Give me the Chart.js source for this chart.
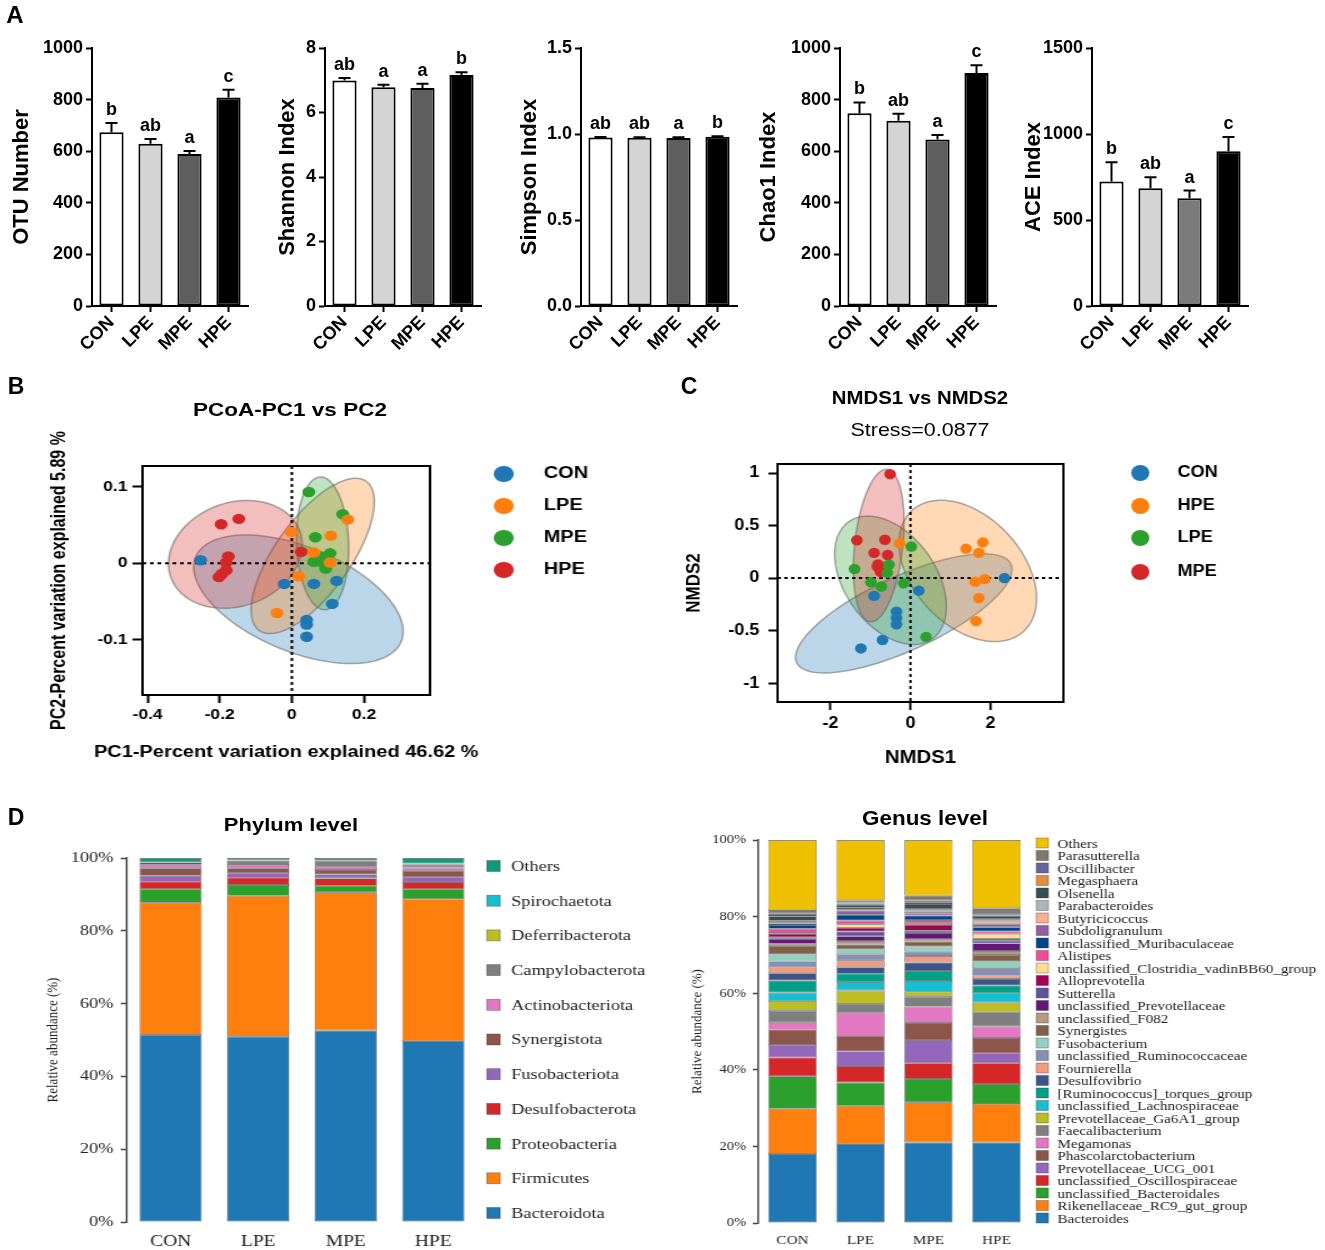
<!DOCTYPE html>
<html>
<head>
<meta charset="utf-8">
<title>Gut microbiota diversity and composition</title>
<script src="https://cdn.jsdelivr.net/npm/chart.js@4.4.1/dist/chart.umd.min.js"></script>
<style>
  body { margin: 0; background: #fff; }
  #fig { position: relative; width: 1325px; height: 1250px; overflow: hidden; font-family: "Liberation Sans", Arial, sans-serif; color: #000; }
  #fig canvas { position: absolute; transform-origin: 0 0; }
  .txt { position: absolute; white-space: nowrap; line-height: 1; }
</style>
</head>
<body>
<div id="fig">
  <canvas id="otu"></canvas>
  <canvas id="shannon"></canvas>
  <canvas id="simpson"></canvas>
  <canvas id="chao1"></canvas>
  <canvas id="ace"></canvas>
  <canvas id="pcoa"></canvas>
  <canvas id="nmds"></canvas>
  <canvas id="phylum"></canvas>
  <canvas id="genus"></canvas>

  <div class="txt" style="left:15px;top:15px;font-size:24px;font-weight:bold;transform:translate(-50%,-50%)">A</div>
  <div class="txt" style="left:16px;top:386px;font-size:23px;font-weight:bold;transform:translate(-50%,-50%)">B</div>
  <div class="txt" style="left:689px;top:386px;font-size:23px;font-weight:bold;transform:translate(-50%,-50%)">C</div>
  <div class="txt" style="left:16px;top:817px;font-size:23px;font-weight:bold;transform:translate(-50%,-50%)">D</div>

  <div class="txt" style="left:290px;top:410px;font-size:18px;font-weight:bold;transform:translate(-50%,-50%) scaleX(1.25)">PCoA-PC1 vs PC2</div>
  <div class="txt" style="left:920px;top:398px;font-size:18px;font-weight:bold;transform:translate(-50%,-50%) scaleX(1.13)">NMDS1 vs NMDS2</div>
  <div class="txt" style="left:920px;top:429px;font-size:19px;transform:translate(-50%,-50%) scaleX(1.13)">Stress=0.0877</div>
  <div class="txt" style="left:291px;top:825px;font-size:18px;font-weight:bold;transform:translate(-50%,-50%) scaleX(1.22)">Phylum level</div>
  <div class="txt" style="left:925px;top:818px;font-size:20px;font-weight:bold;transform:translate(-50%,-50%) scaleX(1.12)">Genus level</div>
</div>

<script>
// ---- data ----
const groups = ['CON', 'LPE', 'MPE', 'HPE'];

const otuMean = [673, 629, 589, 808];
const otuSem = [36, 18, 12, 30];
const otuSig = ['b', 'ab', 'a', 'c'];

const shannonMean = [6.99, 6.78, 6.76, 7.16];
const shannonSem = [0.08, 0.08, 0.13, 0.09];
const shannonSig = ['ab', 'a', 'a', 'b'];

const simpsonMean = [0.979, 0.978, 0.977, 0.984];
const simpsonSem = [0.004, 0.003, 0.004, 0.003];
const simpsonSig = ['ab', 'ab', 'a', 'b'];

const chao1Mean = [747, 718, 645, 903];
const chao1Sem = [42, 27, 18, 30];
const chao1Sig = ['b', 'ab', 'a', 'c'];

const aceMean = [724, 685, 627, 899];
const aceSem = [112, 64, 44, 83];
const aceSig = ['b', 'ab', 'a', 'c'];

// PCoA (PC1, PC2)
const pcoaCON = [[-0.253, 0.004], [-0.021, -0.027], [0.061, -0.027], [0.124, -0.023], [0.112, -0.053], [0.041, -0.074], [0.041, -0.080], [0.041, -0.096]];
const pcoaLPE = [[-0.002, 0.041], [0.108, 0.036], [0.061, 0.014], [0.019, -0.017], [-0.041, -0.065], [0.155, 0.057], [0.106, 0.001]];
const pcoaMPE = [[0.047, 0.093], [0.141, 0.064], [0.065, 0.034], [0.106, 0.013], [0.061, 0.002], [0.088, 0.000], [0.094, -0.007], [0.080, 0.009]];
const pcoaHPE = [[-0.196, 0.051], [-0.147, 0.058], [-0.176, 0.009], [-0.182, 0.001], [-0.182, -0.009], [-0.194, -0.014], [-0.202, -0.018], [0.026, 0.015]];
const pcoaXTicks = [-0.4, -0.2, 0, 0.2];
const pcoaYTicks = [-0.1, 0, 0.1];

// NMDS (NMDS1, NMDS2)
const nmdsCON = [[2.35, 0], [0.21, -0.12], [-0.91, -0.17], [-0.35, -0.32], [-0.35, -0.38], [-0.35, -0.44], [-0.70, -0.59], [-1.24, -0.67]];
const nmdsHPE = [[1.39, 0.28], [1.81, 0.34], [1.71, 0.24], [1.86, -0.01], [1.62, -0.035], [1.71, -0.19], [1.64, -0.41], [-0.27, 0.33]];
const nmdsLPE = [[0.02, 0.30], [-1.40, 0.086], [-0.54, 0.127], [-0.99, -0.04], [-0.73, -0.08], [-0.17, -0.05], [0.39, -0.56], [-0.58, 0.05]];
const nmdsMPE = [[-0.51, 0.99], [-1.34, 0.36], [-0.64, 0.365], [-0.91, 0.24], [-0.57, 0.22], [-0.83, 0.11], [-0.75, 0.06], [-0.81, 0.13]];
const nmdsXTicks = [-2, 0, 2];
const nmdsYTicks = [-1, -0.5, 0, 0.5, 1];

// phylum relative abundance (%), bottom of stack first
const phylumNames = ['Bacteroidota', 'Firmicutes', 'Proteobacteria', 'Desulfobacterota', 'Fusobacteriota', 'Synergistota', 'Actinobacteriota', 'Campylobacterota', 'Deferribacterota', 'Spirochaetota', 'Others'];
const phylumColors = ['#1f77b4', '#ff7f0e', '#2ca02c', '#d62728', '#9467bd', '#8c564b', '#e377c2', '#7f7f7f', '#bcbd22', '#17becf', '#0f9a7c'];
const phylumCON = [51.4, 36.3, 3.7, 2.1, 1.6, 2.1, 1.1, 0.3, 0.1, 0.1, 1.2];
const phylumLPE = [50.9, 38.7, 3.0, 2.0, 1.2, 1.4, 0.9, 1.2, 0.1, 0.1, 0.5];
const phylumMPE = [52.6, 38.0, 1.8, 2.0, 1.1, 1.2, 0.9, 1.5, 0.1, 0.1, 0.7];
const phylumHPE = [49.7, 39.0, 2.7, 2.0, 1.3, 1.8, 0.9, 0.8, 0.2, 0.1, 1.5];

// genus relative abundance (%), bottom of stack first
const genusNames = ['Bacteroides', 'Rikenellaceae_RC9_gut_group', 'unclassified_Bacteroidales', 'unclassified_Oscillospiraceae',
  'Prevotellaceae_UCG_001', 'Phascolarctobacterium', 'Megamonas', 'Faecalibacterium', 'Prevotellaceae_Ga6A1_group',
  'unclassified_Lachnospiraceae', '[Ruminococcus]_torques_group', 'Desulfovibrio', 'Fournierella', 'unclassified_Ruminococcaceae',
  'Fusobacterium', 'Synergistes', 'unclassified_F082', 'unclassified_Prevotellaceae', 'Sutterella', 'Alloprevotella',
  'unclassified_Clostridia_vadinBB60_group', 'Alistipes', 'unclassified_Muribaculaceae', 'Subdoligranulum', 'Butyricicoccus',
  'Parabacteroides', 'Olsenella', 'Megasphaera', 'Oscillibacter', 'Parasutterella', 'Others'];
const genusColors = ['#1f77b4', '#ff7f0e', '#2ca02c', '#d62728', '#9467bd', '#8c564b', '#e377c2', '#7f7f7f', '#bcbd22',
  '#17becf', '#00a087', '#3c5488', '#f39b7f', '#8491b4', '#91d1c2', '#7e6148', '#b09c85', '#631879', '#5f559b', '#a20056',
  '#ffdc91', '#ee4c97', '#00468b', '#925e9f', '#fdaf91', '#adb6b6', '#374e55', '#df8f44', '#6a6599', '#80796b', '#efc000'];
const genusCON = [18.0, 11.8, 8.5, 4.9, 3.3, 4.0, 1.9, 3.0, 2.5, 2.3, 3.1, 1.9, 1.6, 1.5, 1.9, 2.2, 0.5, 1.3, 0.4, 0.9, 0.2, 1.1, 1.0, 0.4, 0.3, 0.4, 1.2, 0.3, 0.5, 0.8, 18.3];
const genusLPE = [20.6, 10.0, 6.1, 4.3, 3.8, 4.1, 6.0, 2.3, 3.5, 2.2, 2.2, 1.7, 1.8, 1.6, 1.3, 1.2, 0.9, 1.3, 1.2, 1.0, 0.9, 1.0, 1.5, 1.1, 0.3, 0.4, 0.8, 0.3, 0.3, 0.6, 15.7];
const genusMPE = [21.0, 10.5, 6.1, 4.1, 6.1, 4.4, 4.3, 2.6, 1.3, 2.8, 2.6, 2.2, 1.7, 1.2, 1.3, 1.3, 0.6, 1.6, 0.6, 1.5, 0.5, 0.8, 1.2, 0.6, 0.4, 0.6, 1.4, 0.3, 0.6, 1.3, 14.5];
const genusHPE = [21.0, 10.1, 5.2, 5.4, 2.6, 4.0, 3.0, 3.7, 2.6, 2.4, 2.0, 1.7, 0.9, 1.9, 1.8, 1.7, 1.0, 2.0, 0.7, 0.5, 1.3, 0.6, 1.1, 0.8, 0.7, 0.6, 0.9, 0.4, 0.6, 1.0, 17.8];

// ---- helpers ----
const SANS = "'Liberation Sans', Arial, sans-serif";
const SERIF = "'Liberation Serif', 'Times New Roman', serif";
Chart.defaults.color = '#000';
Chart.defaults.font.family = SANS;

// size a canvas; sx stretches it horizontally like the source figure
function place(id, left, top, w, h, sx) {
  const c = document.getElementById(id);
  const iw = Math.round(w / sx);
  c.width = iw; c.height = h;
  c.style.left = left + 'px'; c.style.top = top + 'px';
  c.style.width = iw + 'px'; c.style.height = h + 'px';
  if (sx !== 1) c.style.transform = 'scaleX(' + sx + ')';
  return c;
}

function rgba(hex, a) {
  const n = parseInt(hex.slice(1), 16);
  return 'rgba(' + (n >> 16) + ',' + ((n >> 8) & 255) + ',' + (n & 255) + ',' + a + ')';
}

// upper error bar + significance letter above each bar
function errorLetters(sem, sig) {
  return {
    id: 'errorLetters',
    afterDatasetsDraw(chart) {
      const { ctx, scales: { y } } = chart;
      const vals = chart.data.datasets[0].data;
      ctx.save();
      ctx.strokeStyle = '#000'; ctx.lineWidth = 2; ctx.fillStyle = '#000';
      ctx.font = 'bold 18px ' + SANS; ctx.textAlign = 'center'; ctx.textBaseline = 'bottom';
      chart.getDatasetMeta(0).data.forEach((bar, i) => {
        const top = y.getPixelForValue(vals[i] + sem[i]);
        ctx.beginPath();
        ctx.moveTo(bar.x, y.getPixelForValue(vals[i])); ctx.lineTo(bar.x, top);
        ctx.moveTo(bar.x - 6, top); ctx.lineTo(bar.x + 6, top);
        ctx.stroke();
        ctx.fillText(sig[i], bar.x, top - 4);
      });
      ctx.restore();
    }
  };
}

const fillsA = ['#ffffff', '#d4d4d4', '#5e5e5e', '#000000'];
const fillsACE = ['#ffffff', '#d4d4d4', '#7b7b7b', '#000000'];

function indexChart(id, axisX, mean, sem, sig, yMax, yStep, decimals, title, titlePad, fills) {
  const el = place(id, axisX - 92, 0, 258, 370, 1);
  new Chart(el, {
    type: 'bar',
    data: { labels: groups, datasets: [{ data: mean, backgroundColor: fills, borderColor: '#000', borderWidth: 2,
      borderSkipped: false, barPercentage: 0.62, categoryPercentage: 1 }] },
    options: {
      responsive: false, animation: false,
      layout: { padding: { left: 0, top: 48, right: 10, bottom: 0 } },
      plugins: { legend: { display: false }, tooltip: { enabled: false } },
      scales: {
        x: {
          grid: { display: true, drawOnChartArea: false, offset: false, tickLength: 6, tickWidth: 2, tickColor: '#000' },
          border: { color: '#000', width: 2 },
          ticks: { color: '#000', font: { family: SANS, size: 18, weight: 'bold' }, minRotation: 45, maxRotation: 45, autoSkip: false, padding: 0 },
          afterFit: s => { s.height = 64; }
        },
        y: {
          min: 0, max: yMax,
          grid: { display: true, drawOnChartArea: false, tickLength: 6, tickWidth: 2, tickColor: '#000' },
          border: { color: '#000', width: 2 },
          ticks: { stepSize: yStep, color: '#000', padding: 3, font: { family: SANS, size: 18, weight: 'bold' }, callback: v => v.toFixed(decimals) },
          title: { display: true, text: title, color: '#000', font: { family: SANS, size: 22, weight: 'bold' }, padding: { top: titlePad, bottom: 0 } },
          afterFit: s => { s.width = 92; }
        }
      }
    },
    plugins: [errorLetters(sem, sig)]
  });
}

indexChart('otu', 92, otuMean, otuSem, otuSig, 1000, 200, 0, 'OTU Number', 9, fillsA);
indexChart('shannon', 325, shannonMean, shannonSem, shannonSig, 8, 2, 0, 'Shannon Index', 42, fillsA);
indexChart('simpson', 581, simpsonMean, simpsonSem, simpsonSig, 1.5, 0.5, 1, 'Simpson Index', 28, fillsA);
indexChart('chao1', 840, chao1Mean, chao1Sem, chao1Sig, 1000, 200, 0, 'Chao1 Index', 8, fillsA);
indexChart('ace', 1092, aceMean, aceSem, aceSig, 1500, 500, 0, 'ACE Index', 21, fillsACE);

// ---- ordination plots ----
// 95% ellipse (chi-square, 2 df) from each group's covariance
function ellipsePlugin(xTitle, g) {
  return {
    id: 'ellipses',
    beforeDatasetsDraw(chart) {
      const { ctx, chartArea: a, scales: { x, y } } = chart;
      ctx.save();
      ctx.beginPath(); ctx.rect(a.left, a.top, a.width, a.height); ctx.clip();
      const k = Math.sqrt(5.991);
      chart.data.datasets.forEach(ds => {
        const p = ds.data, n = p.length;
        const mx = p.reduce((s, q) => s + q.x, 0) / n;
        const my = p.reduce((s, q) => s + q.y, 0) / n;
        let sxx = 0, syy = 0, sxy = 0;
        p.forEach(q => { sxx += (q.x - mx) ** 2; syy += (q.y - my) ** 2; sxy += (q.x - mx) * (q.y - my); });
        sxx /= n - 1; syy /= n - 1; sxy /= n - 1;
        const l11 = Math.sqrt(sxx), l21 = sxy / l11, l22 = Math.sqrt(Math.max(syy - l21 * l21, 0));
        ctx.beginPath();
        for (let i = 0; i <= 120; i++) {
          const t = i / 120 * 2 * Math.PI;
          const px = x.getPixelForValue(mx + k * l11 * Math.cos(t));
          const py = y.getPixelForValue(my + k * (l21 * Math.cos(t) + l22 * Math.sin(t)));
          if (i) ctx.lineTo(px, py); else ctx.moveTo(px, py);
        }
        ctx.closePath();
        ctx.fillStyle = rgba(ds.backgroundColor, 0.3); ctx.fill();
        ctx.strokeStyle = 'rgba(100,100,100,0.55)'; ctx.lineWidth = 1.5; ctx.stroke();
      });
      // dotted zero lines
      ctx.setLineDash([3, 3]); ctx.strokeStyle = '#000'; ctx.lineWidth = 2;
      const x0 = x.getPixelForValue(0), y0 = y.getPixelForValue(0);
      ctx.beginPath();
      ctx.moveTo(x0, a.top); ctx.lineTo(x0, a.bottom);
      ctx.moveTo(a.left, y0); ctx.lineTo(a.right, y0);
      ctx.stroke();
      ctx.restore();
    },
    afterDraw(chart) {
      const { ctx, chartArea: a } = chart;
      ctx.save(); ctx.strokeStyle = '#000'; ctx.lineWidth = 2;
      ctx.strokeRect(a.left, a.top, a.width, a.height);
      // x-axis title drawn here so it is not squeezed to the plot width
      ctx.fillStyle = '#000'; ctx.font = 'bold ' + g.xts + 'px ' + SANS;
      ctx.textAlign = 'center'; ctx.textBaseline = 'middle';
      ctx.fillText(xTitle, (a.left + a.right) / 2, g.xty);
      ctx.restore();
    }
  };
}

function dotLegend(names, colors, cx, tx, ys) {
  return {
    id: 'dotLegend',
    afterDraw(chart) {
      const ctx = chart.ctx;
      ctx.save();
      ctx.font = 'bold 16px ' + SANS; ctx.textBaseline = 'middle';
      names.forEach((n, i) => {
        ctx.beginPath(); ctx.arc(cx, ys[i], 8, 0, 2 * Math.PI);
        ctx.fillStyle = colors[i]; ctx.fill();
        ctx.fillStyle = '#000'; ctx.fillText(n, tx, ys[i]);
      });
      ctx.restore();
    }
  };
}

function ordination(id, g, sets, names, colors, xr, yr, xTicks, yTicks, xTitle, yTitle) {
  const el = place(id, g.left, 370, g.w, 400, g.sx);
  new Chart(el, {
    type: 'scatter',
    data: { datasets: sets.map((s, i) => ({ label: names[i], data: s.map(p => ({ x: p[0], y: p[1] })),
      backgroundColor: colors[i], borderWidth: 0, pointRadius: 5.2 })) },
    options: {
      responsive: false, animation: false,
      layout: { padding: { left: 0, top: g.top, right: g.right, bottom: 0 } },
      plugins: { legend: { display: false }, tooltip: { enabled: false } },
      scales: {
        x: {
          min: xr[0], max: xr[1],
          afterBuildTicks: s => { s.ticks = xTicks.map(v => ({ value: v })); },
          grid: { display: true, drawOnChartArea: false, tickLength: 8, tickWidth: 2, tickColor: '#000' },
          border: { display: false },
          ticks: { color: '#000', padding: 4, font: { family: SANS, size: g.tick, weight: 'bold' }, callback: v => String(v) },
          afterFit: s => { s.height = g.xh; }
        },
        y: {
          min: yr[0], max: yr[1],
          afterBuildTicks: s => { s.ticks = yTicks.map(v => ({ value: v })); },
          grid: { display: true, drawOnChartArea: false, tickLength: 8, tickWidth: 2, tickColor: '#000' },
          border: { display: false },
          ticks: { color: '#000', padding: g.typ, font: { family: SANS, size: g.tick, weight: 'bold' }, callback: v => String(v) },
          title: { display: true, text: yTitle, color: '#000', font: { family: SANS, size: g.yts, weight: 'bold' }, padding: { top: g.ytp, bottom: 0 } },
          afterFit: s => { s.width = g.yw; }
        }
      }
    },
    plugins: [ellipsePlugin(xTitle, g), dotLegend(names, colors, g.lx, g.ltx, g.ly)]
  });
}

const tab = ['#1f77b4', '#ff7f0e', '#2ca02c', '#d62728'];

ordination('pcoa',
  { left: 0, w: 660, sx: 1.25, top: 96, right: 184, yw: 114, xh: 75, tick: 14, typ: 4, xts: 16, xty: 383, yts: 16, ytp: 38,
    lx: 403, ltx: 435, ly: [104, 136, 168, 200] },
  [pcoaCON, pcoaLPE, pcoaMPE, pcoaHPE], ['CON', 'LPE', 'MPE', 'HPE'], tab,
  [-0.414, 0.383], [-0.172, 0.127], pcoaXTicks, pcoaYTicks,
  'PC1-Percent variation explained 46.62 %', 'PC2-Percent variation explained 5.89 %');

ordination('nmds',
  { left: 660, w: 665, sx: 1.13, top: 94, right: 231, yw: 104, xh: 68, tick: 16, typ: 8, xts: 18, xty: 388, yts: 17, ytp: 20,
    lx: 425, ltx: 458, ly: [103, 136, 168, 202] },
  [nmdsCON, nmdsHPE, nmdsLPE, nmdsMPE], ['CON', 'HPE', 'LPE', 'MPE'], tab,
  [-3.325, 3.825], [-1.18, 1.086], nmdsXTicks, nmdsYTicks,
  'NMDS1', 'NMDS2');

// ---- stacked composition bars ----
function boxLegend(names, colors, sq, tx, y0, dy, w, h, size) {
  return {
    id: 'boxLegend',
    afterDraw(chart) {
      const ctx = chart.ctx;
      ctx.save();
      ctx.font = size + 'px ' + SERIF; ctx.textBaseline = 'middle';
      const order = names.map((n, i) => i).reverse();
      order.forEach((idx, r) => {
        const y = y0 + r * dy;
        ctx.fillStyle = colors[idx]; ctx.fillRect(sq, y - h / 2, w, h);
        ctx.strokeStyle = 'rgba(60,60,60,0.6)'; ctx.lineWidth = 0.6; ctx.strokeRect(sq, y - h / 2, w, h);
        ctx.fillStyle = '#222'; ctx.fillText(names[idx], tx, y + 1);
      });
      ctx.restore();
    }
  };
}

function stacked(id, g, names, colors, cols, legend) {
  const el = place(id, g.left, 800, g.w, 450, g.sx);
  new Chart(el, {
    type: 'bar',
    data: { labels: groups, datasets: names.map((n, i) => ({ label: n, data: cols.map(c => c[i]),
      backgroundColor: colors[i], borderColor: 'rgba(50,50,50,0.8)', borderWidth: 0.7, borderSkipped: false,
      barPercentage: 0.71, categoryPercentage: 1 })) },
    options: {
      responsive: false, animation: false,
      layout: { padding: { left: 0, top: g.top, right: g.right, bottom: 0 } },
      plugins: { legend: { display: false }, tooltip: { enabled: false } },
      scales: {
        x: {
          stacked: true,
          grid: { display: false }, border: { display: false },
          ticks: { color: '#222', padding: g.xtp, font: { family: SERIF, size: g.xtick } },
          afterFit: s => { s.height = g.xh; }
        },
        y: {
          stacked: true, min: 0, max: 100,
          grid: { display: true, drawOnChartArea: false, tickLength: 5, tickWidth: 1.5, tickColor: '#444' },
          border: { color: '#444', width: 1.5 },
          ticks: { stepSize: 20, color: '#222', padding: 6, font: { family: SERIF, size: g.ytick }, callback: v => v + '%' },
          title: { display: true, text: 'Relative abundance (%)', color: '#222', font: { family: SERIF, size: 13 }, padding: { top: g.ytp, bottom: 0 } },
          afterFit: s => { s.width = g.yw; }
        }
      }
    },
    plugins: [legend]
  });
}

stacked('phylum', { left: 0, w: 660, sx: 1.22, top: 58, right: 150, yw: 104, xh: 28, xtick: 16, xtp: 2, ytick: 15, ytp: 36 },
  phylumNames, phylumColors, [phylumCON, phylumLPE, phylumMPE, phylumHPE],
  boxLegend(phylumNames, phylumColors, 399, 419, 66, 34.7, 11, 11, 15));

stacked('genus', { left: 680, w: 645, sx: 1.12, top: 40, right: 263, yw: 70, xh: 27, xtick: 13.5, xtp: 1, ytick: 13, ytp: 8 },
  genusNames, genusColors, [genusCON, genusLPE, genusMPE, genusHPE],
  boxLegend(genusNames, genusColors, 318, 337, 43, 12.5, 11, 10, 13.5));
</script>
</body>
</html>
